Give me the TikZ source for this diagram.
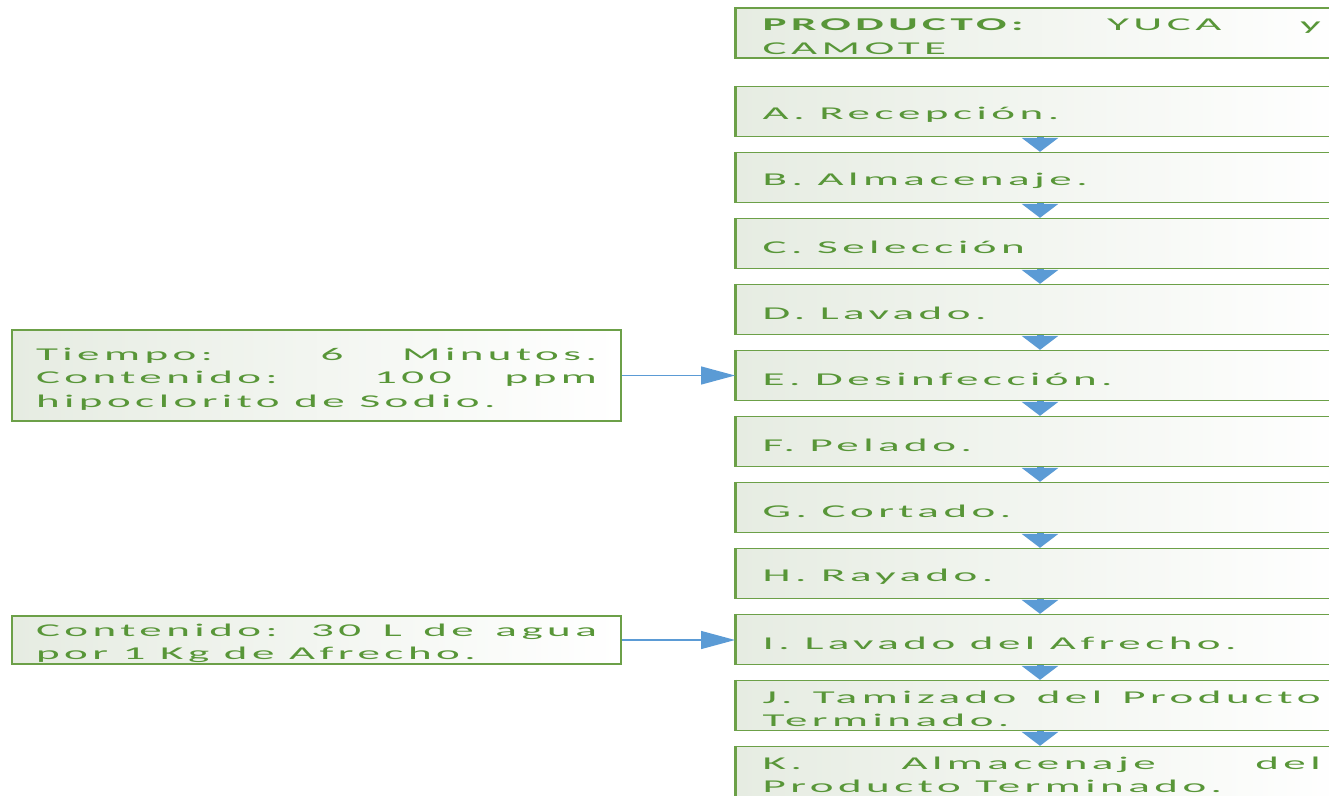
\documentclass[tikz,border=0pt]{standalone}
\usepackage{graphicx}
\usepackage{fontspec}
\setmainfont{Carlito}[LetterSpace=10]
\usetikzlibrary{arrows.meta}
\hyphenpenalty=10000
\exhyphenpenalty=10000
\tolerance=9999
\definecolor{txtgreen}{RGB}{88,150,56}
\definecolor{boxgreen}{RGB}{108,160,72}
\definecolor{fillgreen}{RGB}{230,236,226}
\definecolor{flowblue}{RGB}{91,155,213}
% wide, justified label text: set narrow, then stretched horizontally;
% the strut lowers the text slightly inside its box
\newcommand{\widetext}[2]{\scalebox{2.5}[1]{\parbox{#1}{\rule{0pt}{19.5pt}#2}}}
\tikzset{
  stepbox/.style={draw=boxgreen, line width=1.3pt, left color=fillgreen, right color=white,
    minimum width=612pt, minimum height=50pt, inner xsep=27pt, inner ysep=0pt,
    anchor=west, text=txtgreen, font=\fontsize{18}{23.5}\selectfont},
  notebox/.style={draw=boxgreen, line width=2pt, left color=fillgreen, right color=white,
    minimum width=609pt, inner xsep=24pt, inner ysep=0pt,
    text=txtgreen, font=\fontsize{18}{23.5}\selectfont},
  leftedge/.style={draw=boxgreen, line width=3pt},
  flowarrow/.style={draw=flowblue, line width=7pt, -{Triangle[width=36pt,length=14pt]}},
  feedarrow/.style={draw=flowblue, line width=1.3pt, -{Triangle[width=18pt,length=34pt]}}
}
\begin{document}
\begin{tikzpicture}[x=1pt,y=-1pt]
\clip (0,0) rectangle (1329,795);
\fill[white] (0,0) rectangle (1329,795);

% main process column
\node[stepbox] (p) at (735,33) {\widetext{223.2pt}{\textbf{PRODUCTO:} YUCA y CAMOTE}};
\node[stepbox] (a) at (735,111.5) {\widetext{223.2pt}{A. Recepción.}};
\node[stepbox] (b) at (735,177.5) {\widetext{223.2pt}{B. Almacenaje.}};
\node[stepbox] (c) at (735,243.5) {\widetext{223.2pt}{C. Selección}};
\node[stepbox] (d) at (735,309.5) {\widetext{223.2pt}{D. Lavado.}};
\node[stepbox] (e) at (735,375.5) {\widetext{223.2pt}{E. Desinfección.}};
\node[stepbox] (f) at (735,441.5) {\widetext{223.2pt}{F. Pelado.}};
\node[stepbox] (g) at (735,507.5) {\widetext{223.2pt}{G. Cortado.}};
\node[stepbox] (h) at (735,573.5) {\widetext{223.2pt}{H. Rayado.}};
\node[stepbox] (i) at (735,639.5) {\widetext{223.2pt}{I. Lavado del Afrecho.}};
\node[stepbox] (j) at (735,705.5) {\widetext{223.2pt}{J. Tamizado del Producto Terminado.}};
\node[stepbox] (k) at (735,771.5) {\widetext{223.2pt}{K. Almacenaje del Producto Terminado.}};

\foreach \n in {p,a,b,c,d,e,f,g,h,i,j,k}
  \draw[leftedge] (\n.north west) -- (\n.south west);

% flow between steps
\foreach \u/\v in {a/b,b/c,c/d,d/e,e/f,f/g,g/h,h/i,i/j,j/k}
  \draw[flowarrow] (\u.south -| 1040,0) -- (\v.north -| 1040,0);

% process conditions
\node[notebox, minimum height=91pt] (n1) at (316.5,375.5)
  {\widetext{224.4pt}{Tiempo: 6 Minutos. Contenido: 100 ppm hipoclorito de Sodio.}};
\node[notebox, minimum height=48pt] (n2) at (316.5,640)
  {\widetext{224.4pt}{Contenido: 30 L de agua por 1 Kg de Afrecho.}};

\draw[feedarrow] (n1.east) -- (n1.east -| e.west);
\draw[feedarrow] (n2.east) -- (n2.east -| i.west);
\end{tikzpicture}
\end{document}
